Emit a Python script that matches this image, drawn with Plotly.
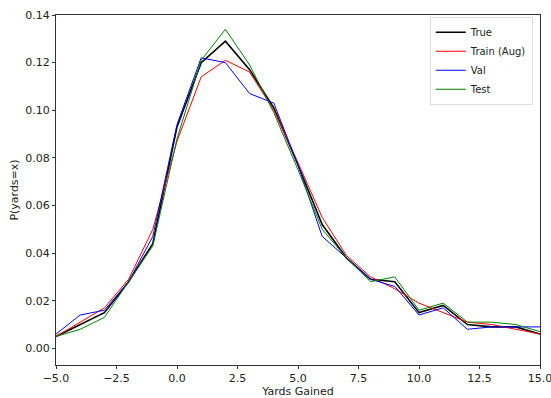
import plotly.graph_objects as go

yards = list(range(-5, 16))
true_vals = [0.005, 0.010, 0.015, 0.028, 0.044, 0.093, 0.120, 0.129, 0.117, 0.101, 0.077,
             0.052, 0.038, 0.029, 0.028, 0.015, 0.018, 0.010, 0.009, 0.009, 0.006]
train_vals = [0.005, 0.011, 0.017, 0.029, 0.050, 0.087, 0.114, 0.121, 0.116, 0.100, 0.078,
              0.055, 0.039, 0.030, 0.025, 0.019, 0.015, 0.011, 0.010, 0.008, 0.006]
val_vals = [0.006, 0.014, 0.016, 0.028, 0.047, 0.094, 0.122, 0.120, 0.107, 0.103, 0.077,
            0.047, 0.038, 0.029, 0.026, 0.014, 0.017, 0.008, 0.009, 0.009, 0.009]
test_vals = [0.005, 0.008, 0.013, 0.028, 0.043, 0.088, 0.121, 0.134, 0.119, 0.099, 0.075,
             0.050, 0.038, 0.028, 0.030, 0.016, 0.019, 0.011, 0.011, 0.010, 0.007]

x_ticks = [-5, -2.5, 0, 2.5, 5, 7.5, 10, 12.5, 15]
y_ticks = [0.00, 0.02, 0.04, 0.06, 0.08, 0.10, 0.12, 0.14]

series = [
    ("True", true_vals, "#000000", 1.6),
    ("Train (Aug)", train_vals, "#ff0000", 1.0),
    ("Val", val_vals, "#0000ff", 1.0),
    ("Test", test_vals, "#008000", 1.0),
]

fig = go.Figure()
for name, vals, color, w in series:
    fig.add_trace(go.Scatter(x=yards, y=vals, mode="lines", name=name,
                             line=dict(color=color, width=w)))

axis_common = dict(showline=True, linecolor="#333333", linewidth=1, mirror=True,
                   ticks="outside", ticklen=3, tickcolor="#333333", showgrid=False,
                   zeroline=False, ticklabeloverflow="allow", automargin=False,
                   tickfont=dict(family="DejaVu Sans", size=11, color="#222222"))

fig.update_layout(
    width=551, height=398,
    margin=dict(l=56, r=11, t=15, b=33),
    paper_bgcolor="white", plot_bgcolor="white",
    font=dict(family="DejaVu Sans", size=11, color="#222222"),
    showlegend=True,
    legend=dict(x=0.985, y=0.995, xanchor="right", yanchor="top",
                bgcolor="rgba(255,255,255,0.8)", bordercolor="#dddddd", borderwidth=1,
                font=dict(size=10), tracegroupgap=0, itemwidth=30),
    xaxis=dict(range=[-5, 15], tickvals=x_ticks, tickformat=".1f",
               title=dict(text="Yards Gained", standoff=3, font=dict(size=11)), **axis_common),
    yaxis=dict(range=[-0.007, 0.14], tickvals=y_ticks, tickformat=".2f",
               title=dict(text="P(yards=x)", standoff=4, font=dict(size=11)), **axis_common),
)

fig.write_html("out.html", config={"displayModeBar": False},
               post_script="document.body.style.margin='0';")
